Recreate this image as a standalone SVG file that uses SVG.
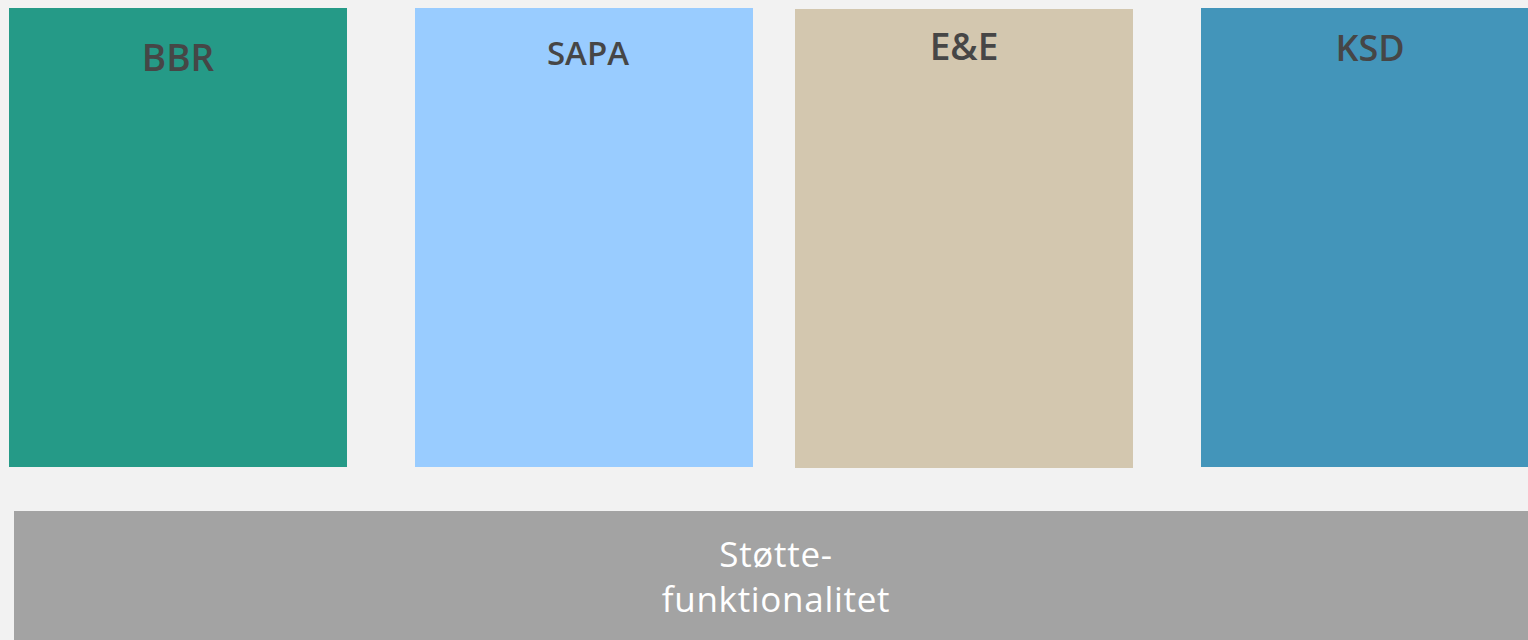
<svg xmlns="http://www.w3.org/2000/svg" width="1528" height="640" viewBox="0 0 1528 640">
<style>
.lbl{font-family:"Open Sans","DejaVu Sans",sans-serif;font-weight:600;fill:#464646;text-anchor:middle}
.sup{font-family:"Open Sans","DejaVu Sans",sans-serif;font-weight:400;fill:#ffffff;text-anchor:middle;font-size:35px;letter-spacing:0.7px}
</style>
<rect x="0" y="0" width="1528" height="640" fill="#F2F2F2"/>
<g id="bbr">
<rect x="9" y="8" width="338" height="459" fill="#259A87"/>
<text class="lbl" x="178" y="71" font-size="37">BBR</text>
</g>
<g id="sapa">
<rect x="415" y="8" width="338" height="459" fill="#99CCFF"/>
<text class="lbl" x="588" y="65" font-size="33">SAPA</text>
</g>
<g id="ee">
<rect x="795" y="9" width="338" height="459" fill="#D3C7AF"/>
<text class="lbl" x="964" y="60" font-size="37">E&amp;E</text>
</g>
<g id="ksd">
<rect x="1201" y="8" width="327" height="459" fill="#4395BA"/>
<text class="lbl" x="1370" y="61" font-size="36">KSD</text>
</g>
<g id="stotte">
<rect x="14" y="511" width="1514" height="129" fill="#A3A3A3"/>
<text class="sup" x="776" y="567">Støtte-</text>
<text class="sup" x="776" y="612">funktionalitet</text>
</g>
<g id="connectors"/>
</svg>
